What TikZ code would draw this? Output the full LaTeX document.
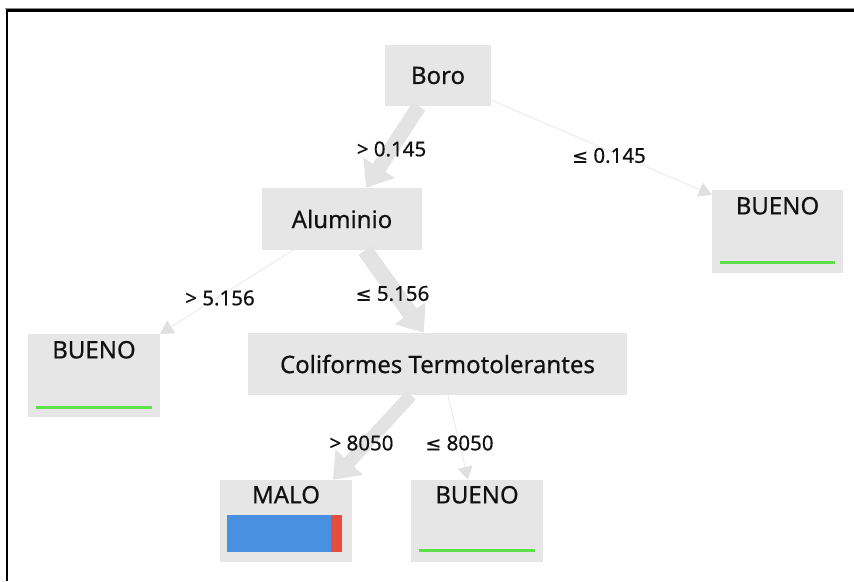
\documentclass[tikz,border=0pt]{standalone}
\usepackage{fontspec}
\setmainfont{Noto Sans}[FakeBold=0.5]
\newfontfamily\symfont{DejaVu Sans}[FakeBold=0.5]
\usetikzlibrary{arrows.meta}
\definecolor{boxgray}{HTML}{E6E6E6}
\definecolor{edgegray}{HTML}{E3E3E3}
\definecolor{thingray}{HTML}{ECECEC}
\definecolor{tipgray}{HTML}{E0E0E0}
\definecolor{txt}{HTML}{111111}
\definecolor{leafgreen}{HTML}{5FE04A}
\definecolor{barblue}{HTML}{4A90E0}
\definecolor{barred}{HTML}{E84C3D}
\tikzset{
  box/.style={fill=boxgray, inner sep=0pt, text=txt, font=\fontsize{24}{28}\selectfont},
  leafbox/.style={fill=boxgray, inner sep=0pt, minimum width=132pt, minimum height=82pt},
  leaftext/.style={text=txt, inner sep=0pt, font=\fontsize{24}{28}\selectfont},
  elabel/.style={text=txt, inner sep=0pt, font=\fontsize{20.5}{24}\selectfont},
  thickedge/.style={draw=edgegray, line width=#1, -{Triangle[length=24pt,width=36pt,color=edgegray]}},
  thinedge/.style={draw=thingray, line width=1pt, -{Triangle[length=13pt,width=15pt,color=tipgray]}},
  greenline/.style={draw=leafgreen, line width=3pt},
}
\newcommand{\lesym}{{\symfont\fontsize{19}{24}\selectfont ≤}}
\begin{document}
\begin{tikzpicture}[x=1pt,y=-1pt]
\useasboundingbox (0,0) rectangle (854,581);
% frame
\draw[black!45, line width=1pt] (5,8.5) -- (854,8.5);
\draw[black, line width=2.6pt] (7,581) -- (7,10.5) -- (854,10.5);

% decision nodes
\node[box, minimum width=106pt, minimum height=61pt] (boro) at (438,75.5) {Boro};
\node[box, minimum width=160pt, minimum height=62pt] (alu) at (342,219) {Aluminio};
\node[box, minimum width=379pt, minimum height=62pt] (coli) at (437.5,364) {Coliformes Termotolerantes};

% leaves
\node[leafbox, minimum width=131pt, minimum height=83pt] (bright) at (777.5,231.5) {};
\node[leaftext] (brighttxt) at ([yshift=-16pt]bright.north) {BUENO};
\draw[greenline] ([xshift=8pt,yshift=11pt]bright.south west) -- ([xshift=-8pt,yshift=11pt]bright.south east);

\node[leafbox, minimum height=83pt] (bleft) at (94,375.5) {};
\node[leaftext] (blefttxt) at ([yshift=-16pt]bleft.north) {BUENO};
\draw[greenline] ([xshift=8pt,yshift=10pt]bleft.south west) -- ([xshift=-8pt,yshift=10pt]bleft.south east);

\node[leafbox] (malo) at (286,521) {};
\node[leaftext] (malotxt) at ([yshift=-15pt]malo.north) {MALO};
\fill[barblue] ([xshift=7pt,yshift=10pt]malo.south west) rectangle ([xshift=111pt,yshift=47pt]malo.south west);
\fill[barred] ([xshift=111pt,yshift=10pt]malo.south west) rectangle ([xshift=122pt,yshift=47pt]malo.south west);

\node[leafbox] (bbot) at (477,521) {};
\node[leaftext] (bbottxt) at ([yshift=-15pt]bbot.north) {BUENO};
\draw[greenline] ([xshift=8pt,yshift=12pt]bbot.south west) -- ([xshift=-8pt,yshift=12pt]bbot.south east);

% connectors
\draw[thickedge=15pt] ([xshift=-19pt]boro.south) -- ([xshift=24pt]alu.north);
\draw[thinedge] ([yshift=6pt]boro.south east) -- ([yshift=-5pt]bright.north west);
\draw[thickedge=16pt] ([xshift=23pt]alu.south) -- ([xshift=-13.5pt]coli.north);
\draw[thinedge] ([xshift=31pt]alu.south west) -- (bleft.north east);
\draw[thickedge=13pt] ([xshift=-26.5pt]coli.south) -- ([xshift=47pt]malo.north);
\draw[thinedge] ([xshift=10.5pt]coli.south) -- ([xshift=-9pt]bbot.north);

% edge labels
\node[elabel] (l1) at (391.5,149) {> 0.145};
\node[elabel] (l2) at (609,155.5) {\lesym{} 0.145};
\node[elabel] (l3) at (220,298) {> 5.156};
\node[elabel] (l4) at (392.5,293.5) {\lesym{} 5.156};
\node[elabel] (l5) at (361.5,443) {> 8050};
\node[elabel] (l6) at (459.5,443) {\lesym{} 8050};
\end{tikzpicture}
\end{document}
